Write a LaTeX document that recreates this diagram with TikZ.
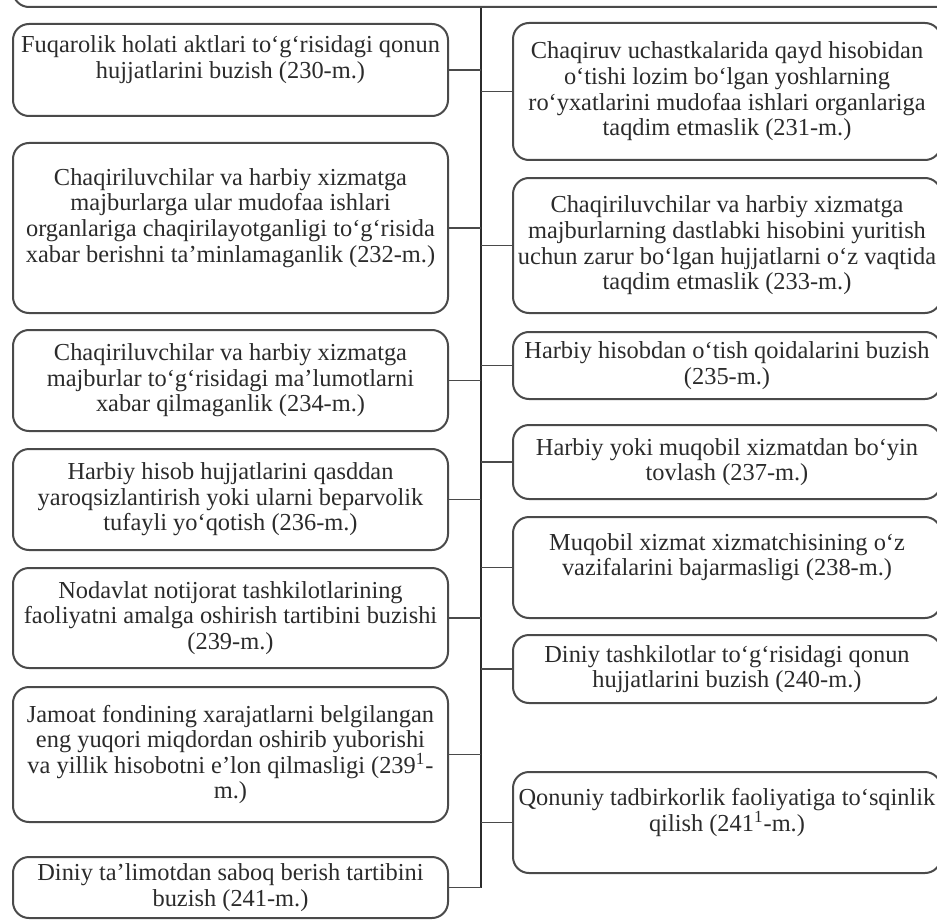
\documentclass[tikz,border=0pt]{standalone}
\usepackage{fontspec}
\setmainfont{Liberation Serif}
\definecolor{boxline}{HTML}{4A4A4A}
\definecolor{inkgray}{HTML}{2B2B2B}
\begin{document}
\begin{tikzpicture}[x=0.5pt, y=-0.5pt,
  box/.style={draw=boxline, line width=1pt, rounded corners=8pt, align=center,
    inner sep=0pt, text=inkgray, font=\fontsize{12.2}{12.8}\selectfont},
  lbox/.style={box, minimum width=217.5pt},
  rbox/.style={box, minimum width=214pt},
  link/.style={draw=boxline, line width=0.7pt}]
\useasboundingbox (0,0) rectangle (937,920);
\clip (0,0) rectangle (937,920);
\node[box, minimum width=483.5pt, minimum height=33.5pt] (root) at (496.5,-26.5) {};
\coordinate (spine) at (481,887.5);
\draw[draw=inkgray, line width=1.2pt] (spine |- root.south) -- (spine);
% left column
\node[lbox, minimum height=46pt] (l230) at (230.5,70)
  {Fuqarolik holati aktlari to‘g‘risidagi qonun\\hujjatlarini buzish (230-m.)\\ \mbox{}};
\node[lbox, minimum height=85pt] (l232) at (230.5,228)
  {Chaqiriluvchilar va harbiy xizmatga\\majburlarga ular mudofaa ishlari\\organlariga chaqirilayotganligi to‘g‘risida\\xabar berishni ta’minlamaganlik (232-m.)\\ \mbox{}};
\node[lbox, minimum height=50.5pt] (l234) at (230.5,380.5)
  {Chaqiriluvchilar va harbiy xizmatga\\majburlar to‘g‘risidagi ma’lumotlarni\\xabar qilmaganlik (234-m.)};
\node[lbox, minimum height=50.5pt] (l236) at (230.5,499.5)
  {Harbiy hisob hujjatlarini qasddan\\yaroqsizlantirish yoki ularni beparvolik\\tufayli yo‘qotish (236-m.)};
\node[lbox, minimum height=50pt] (l239) at (230.5,618)
  {Nodavlat notijorat tashkilotlarining\\faoliyatni amalga oshirish tartibini buzishi\\(239-m.)};
\node[lbox, minimum height=67.5pt] (l2391) at (230.5,754.5)
  {Jamoat fondining xarajatlarni belgilangan\\eng yuqori miqdordan oshirib yuborishi\\va yillik hisobotni e’lon qilmasligi (239\textsuperscript{1}-\\m.)};
\node[lbox, minimum height=30.5pt] (l241) at (230.5,887.5)
  {Diniy ta’limotdan saboq berish tartibini\\buzish (241-m.)};
% right column
\node[rbox, minimum height=68.5pt] (r231) at (727,91.5)
  {Chaqiruv uchastkalarida qayd hisobidan\\o‘tishi lozim bo‘lgan yoshlarning\\ro‘yxatlarini mudofaa ishlari organlariga\\taqdim etmaslik (231-m.)};
\node[rbox, minimum height=67.5pt] (r233) at (727,245.5)
  {Chaqiriluvchilar va harbiy xizmatga\\majburlarning dastlabki hisobini yuritish\\uchun zarur bo‘lgan hujjatlarni o‘z vaqtida\\taqdim etmaslik (233-m.)};
\node[rbox, minimum height=33.5pt] (r235) at (727,365.5)
  {Harbiy hisobdan o‘tish qoidalarini buzish\\(235-m.)};
\node[rbox, minimum height=37pt] (r237) at (727,462)
  {Harbiy yoki muqobil xizmatdan bo‘yin\\tovlash (237-m.)};
\node[rbox, minimum height=50.5pt] (r238) at (727,567.5)
  {Muqobil xizmat xizmatchisining o‘z\\vazifalarini bajarmasligi (238-m.)\\ \mbox{}};
\node[rbox, minimum height=34pt] (r240) at (727,669)
  {Diniy tashkilotlar to‘g‘risidagi qonun\\hujjatlarini buzish (240-m.)};
\node[rbox, minimum height=50.5pt] (r2411) at (727,822.5)
  {Qonuniy tadbirkorlik faoliyatiga to‘sqinlik\\qilish (241\textsuperscript{1}-m.)\\ \mbox{}};
% connectors
\draw[link] (l230.east) -- (l230.east -| spine);
\draw[link] (l232.east) -- (l232.east -| spine);
\draw[link] (l234.east) -- (l234.east -| spine);
\draw[link] (l236.east) -- (l236.east -| spine);
\draw[link] (l239.east) -- (l239.east -| spine);
\draw[link] (l2391.east) -- (l2391.east -| spine);
\draw[link] (l241.east) -- (spine);
\draw[link] (r231.west) -- (r231.west -| spine);
\draw[link] (r233.west) -- (r233.west -| spine);
\draw[link] (r235.west) -- (r235.west -| spine);
\draw[link] (r237.west) -- (r237.west -| spine);
\draw[link] (r238.west) -- (r238.west -| spine);
\draw[link] (r240.west) -- (r240.west -| spine);
\draw[link] (r2411.west) -- (r2411.west -| spine);
\end{tikzpicture}
\end{document}
